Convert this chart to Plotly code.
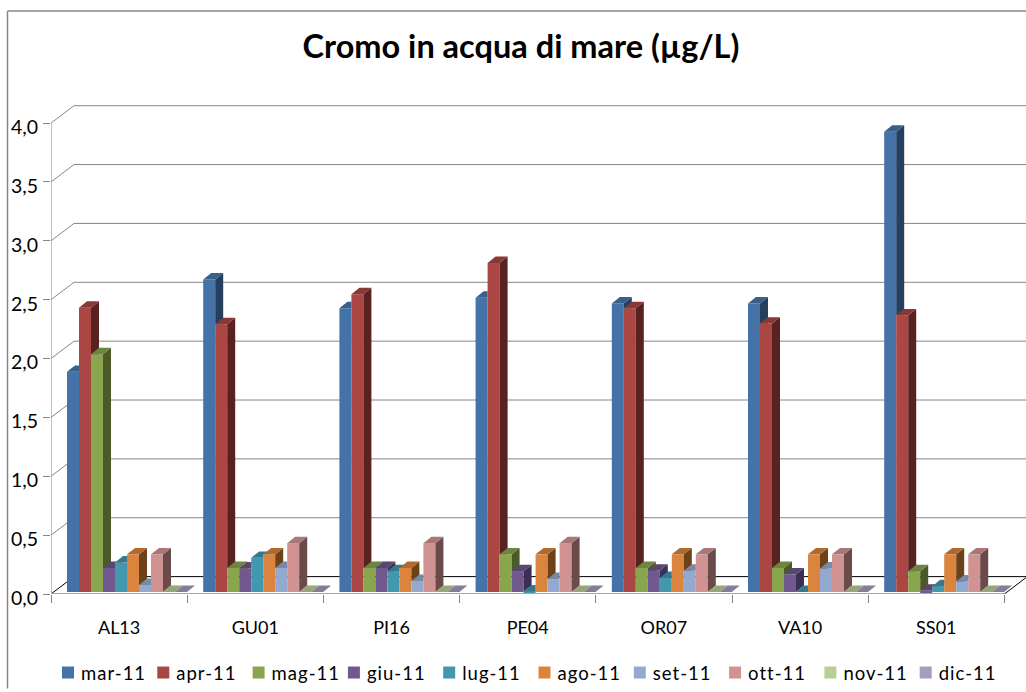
import plotly.graph_objects as go

CATEGORIES = ["AL13", "GU01", "PI16", "PE04", "OR07", "VA10", "SS01"]
SERIES = ["mar-11", "apr-11", "mag-11", "giu-11", "lug-11", "ago-11", "set-11", "ott-11", "nov-11", "dic-11"]
MAR = [1.87, 2.655, 2.41, 2.50, 2.45, 2.45, 3.91]
APR = [2.415, 2.275, 2.53, 2.795, 2.41, 2.28, 2.35]
MAG = [2.02, 0.205, 0.205, 0.32, 0.205, 0.205, 0.177]
GIU = [0.205, 0.20, 0.205, 0.177, 0.18, 0.15, 0.01]
LUG = [0.25, 0.29, 0.177, 0.005, 0.12, 0.0, 0.05]
AGO = [0.32, 0.32, 0.205, 0.32, 0.32, 0.32, 0.32]
SET = [0.06, 0.205, 0.093, 0.11, 0.18, 0.20, 0.09]
OTT = [0.32, 0.415, 0.415, 0.415, 0.32, 0.32, 0.32]
NOV = [0, 0, 0, 0, 0, 0, 0]
DIC = [0, 0, 0, 0, 0, 0, 0]
VALUES = [MAR, APR, MAG, GIU, LUG, AGO, SET, OTT, NOV, DIC]
Y_TICKS = [0, 0.5, 1, 1.5, 2, 2.5, 3, 3.5, 4]
Y_LABELS = ["0,0", "0,5", "1,0", "1,5", "2,0", "2,5", "3,0", "3,5", "4,0"]

FRONT = ["#4572A7", "#AA4643", "#89A54E", "#71588F", "#4198AF", "#DB843D", "#93A9CF", "#D19392", "#B9CD96", "#A99BBD"]
SIDE = ["#253F5F", "#572220", "#4B5A28", "#3C2F55", "#2B6272", "#6D4219", "#6C7FA0", "#6B4A4A", "#94A478", "#877C97"]
TOP = ["#386088", "#893836", "#6E843F", "#5A4673", "#347A8C", "#B06A30", "#7589A8", "#A87776", "#96A57A", "#877C97"]

W, H = 1026, 692
L, R, T, B = 51, 0, 105, 95
PX_CAT = 136.2
PX_VAL = 118.45
X0 = -0.5
xr_end = X0 + (W - L - R) / PX_CAT
yr_end = (H - B - T) / PX_VAL
PLOT_W, PLOT_H = W - L - R, H - T - B

px = lambda p: p / PX_CAT
pv = lambda p: p / PX_VAL
WALL_DX, WALL_DY = px(23), pv(17.5)
DX, DY = px(8), pv(6.5)
BAR_W = px(12)
BAR_START = px(16) - 0.5
BASE = pv(2)

fig = go.Figure()
for i, (name, vals) in enumerate(zip(SERIES, VALUES)):
    fig.add_bar(x=list(range(len(CATEGORIES))), y=vals, base=BASE, name=name,
                width=BAR_W, offset=BAR_START + i * BAR_W,
                marker=dict(color=FRONT[i], line=dict(width=0)), hoverinfo="skip")

for i, vals in enumerate(VALUES):
    sx, sy, tx, ty = [], [], [], []
    nxt = VALUES[i + 1] if i + 1 < len(VALUES) else None
    for c, v in enumerate(vals):
        xl = c + BAR_START + i * BAR_W
        xr = xl + BAR_W
        h = BASE + v
        hn = BASE + nxt[c] if nxt else BASE
        if hn >= h + DY:
            pass
        elif hn > h:
            sx += [xr + DX * (hn - h) / DY, xr + DX, xr + DX, None]
            sy += [hn, h + DY, hn, None]
        elif v > 0:
            if hn < BASE + DY:
                xk = xr + DX * (hn - BASE) / DY
                sx += [xr, xr + DX, xr + DX, xk, xr, None]
                sy += [h, h + DY, BASE + DY, hn, hn, None]
            else:
                sx += [xr, xr + DX, xr + DX, xr, None]
                sy += [h, h + DY, hn, hn, None]
        if hn >= h + DY:
            tx += [xl, xr, xr, xl + DX, None]
            ty += [h, h, h + DY, h + DY, None]
        elif hn > h:
            x1 = xr + DX * (hn - h) / DY
            tx += [xl, xr, xr, x1, xr + DX, xl + DX, None]
            ty += [h, h, hn, hn, h + DY, h + DY, None]
        else:
            tx += [xl, xr, xr + DX, xl + DX, None]
            ty += [h, h, h + DY, h + DY, None]
    for xs, ys, col in ((sx, sy, SIDE[i]), (tx, ty, TOP[i])):
        if xs:
            fig.add_scatter(x=xs, y=ys, mode="lines", fill="toself", fillcolor=col,
                            line=dict(width=0, color=col), showlegend=False, hoverinfo="skip")

GREY = "#868686"
shapes = []
def seg(x0, y0, x1, y1, color=GREY, width=1):
    shapes.append(dict(type="line", xref="x", yref="y", x0=x0, y0=y0, x1=x1, y1=y1,
                       layer="below", line=dict(color=color, width=width)))

X_END = X0 + len(CATEGORIES)
for t in Y_TICKS:
    col = "#000000" if t == 0 else GREY
    seg(X0, t, X0 + WALL_DX, t + WALL_DY, col)
    seg(X0 + WALL_DX, t + WALL_DY, X_END + WALL_DX, t + WALL_DY, col)
seg(X0, 0, X0, Y_TICKS[-1])
seg(X0, 0, X_END, 0, "#A6A6A6", 2)
seg(X_END, 0, X_END + WALL_DX, WALL_DY, "#000000")
frame_x = (7.5 - L) / PLOT_W
frame_top = (H - B - 10.5) / PLOT_H
shapes.append(dict(type="line", xref="paper", yref="paper", x0=frame_x, x1=frame_x,
                   y0=-B / PLOT_H, y1=frame_top, line=dict(color=GREY, width=1.5)))
shapes.append(dict(type="line", xref="paper", yref="paper", x0=frame_x, x1=1,
                   y0=frame_top, y1=frame_top, line=dict(color=GREY, width=1.5)))

FONT = "Lato"
fig.update_layout(
    width=W, height=H, autosize=False,
    margin=dict(l=L, r=R, t=T, b=B, pad=0),
    paper_bgcolor="white", plot_bgcolor="white",
    barmode="overlay", shapes=shapes, hovermode=False,
    title=dict(text="<b>Cromo in acqua di mare (µg/L)</b>", x=521 / W, xanchor="center", xref="container",
               y=1 - 47 / H, yanchor="middle", font=dict(family=FONT, size=32.5, color="#000000")),
    font=dict(family=FONT, size=18, color="#000000"),
    xaxis=dict(range=[X0, xr_end], tickvals=list(range(len(CATEGORIES))), ticktext=CATEGORIES,
               ticks="", showgrid=False, zeroline=False, showline=False, ticklabelstandoff=21,
               minor=dict(tickmode="array", tickvals=[X0 + k for k in range(len(CATEGORIES) + 1)],
                          ticks="outside", ticklen=8, tickcolor=GREY, tickwidth=1, showgrid=False),
               tickfont=dict(size=18, family=FONT)),
    yaxis=dict(range=[0, yr_end], tickvals=Y_TICKS, ticktext=Y_LABELS, ticks="outside", ticklen=7,
               tickcolor=GREY, tickwidth=1, showgrid=False, zeroline=False, showline=False,
               ticklabelstandoff=1, ticklabelshift=4, tickfont=dict(size=19.5, family=FONT)),
    legend=dict(orientation="h", x=(48 - L) / PLOT_W, xanchor="left", y=(-B + 15) / PLOT_H, yanchor="middle",
                entrywidth=50.3, entrywidthmode="pixels", traceorder="normal",
                font=dict(size=18.5, family=FONT), bgcolor="rgba(0,0,0,0)", itemclick=False, itemdoubleclick=False),
)

CSS = ".legendtext{letter-spacing:1px;transform:translateX(-7px);}"
fig.write_html("out.html", config=dict(displayModeBar=False),
               post_script="document.body.style.margin='0';document.documentElement.style.overflow='hidden';"
                           "var s=document.createElement('style');s.textContent='" + CSS + "';document.head.appendChild(s);")
